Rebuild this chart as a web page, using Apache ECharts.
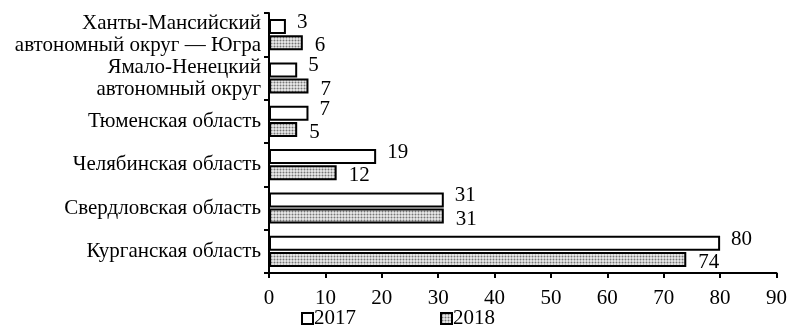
<!DOCTYPE html>
<html>
<head>
<meta charset="utf-8">
<script src="https://cdn.jsdelivr.net/npm/echarts@6/dist/echarts.min.js"></script>
<style>
  html, body { margin: 0; padding: 0; background: #fff; }
  #chart { width: 790px; height: 326px; }
</style>
</head>
<body>
<div id="chart"></div>
<script>
// Regions, listed bottom to top along the category axis
const regions = [
  'Курганская область',
  'Свердловская область',
  'Челябинская область',
  'Тюменская область',
  'Ямало-Ненецкий\nавтономный округ',
  'Ханты-Мансийский\nавтономный округ — Югра'
];
const years = ['2017', '2018'];
const values2017 = [80, 31, 19, 7, 5, 3];
const values2018 = [74, 31, 12, 5, 7, 6];
const xTicks = { min: 0, max: 90, interval: 10 };

// Dotted gray fill for the 2018 bars
function dotPattern() {
  const c = document.createElement('canvas');
  c.width = 3; c.height = 3;
  const g = c.getContext('2d');
  g.fillStyle = '#e2e2e2';
  g.fillRect(0, 0, 3, 3);
  g.fillStyle = '#bababa';
  g.fillRect(0, 1, 3, 1);
  g.fillRect(1, 0, 1, 3);
  g.fillStyle = '#767676';
  g.fillRect(1, 1, 1, 1);
  return c;
}

const FONT = '"Liberation Serif", "Times New Roman", serif';
const FS = 21;
const chart = echarts.init(document.getElementById('chart'), null, { renderer: 'canvas' });

chart.setOption({
  animation: false,
  textStyle: { fontFamily: FONT, color: '#000' },
  grid: { left: 269, right: 13, top: 13, bottom: 53, containLabel: false },
  legend: {
    data: years,
    top: 308,
    left: 301,
    icon: 'rect',
    itemWidth: 11,
    itemHeight: 11,
    itemGap: 84,
    padding: 0,
    textStyle: { fontFamily: FONT, fontSize: FS, color: '#000', padding: [0, 0, 0, -4] },
    itemStyle: { borderColor: '#000', borderWidth: 2 }
  },
  xAxis: {
    type: 'value',
    min: xTicks.min,
    max: xTicks.max,
    interval: xTicks.interval,
    splitLine: { show: false },
    axisLine: { show: true, lineStyle: { color: '#000', width: 2 } },
    axisTick: { show: true, length: 5, lineStyle: { color: '#000', width: 2 } },
    axisLabel: { fontFamily: FONT, fontSize: FS, color: '#000', margin: 15 }
  },
  yAxis: {
    type: 'category',
    data: regions,
    axisLine: { show: true, lineStyle: { color: '#000', width: 2 } },
    axisTick: { show: true, length: 5, alignWithLabel: false, lineStyle: { color: '#000', width: 2 } },
    axisLabel: { interval: 0, fontFamily: FONT, fontSize: FS, color: '#000', margin: 8, lineHeight: 22, align: 'right' }
  },
  series: [
    {
      name: years[0],
      type: 'bar',
      data: values2017,
      barCategoryGap: '28%',
      barGap: '8%',
      itemStyle: { color: '#fff', borderColor: '#000', borderWidth: 2 },
      label: {
        show: true, position: 'right', distance: 11, offset: [0, -4],
        fontFamily: FONT, fontSize: FS, color: '#000'
      }
    },
    {
      name: years[1],
      type: 'bar',
      data: values2018,
      barCategoryGap: '28%',
      barGap: '8%',
      itemStyle: { color: { image: dotPattern(), repeat: 'repeat' }, borderColor: '#000', borderWidth: 2 },
      label: {
        show: true, position: 'right', distance: 12, offset: [0, 3],
        fontFamily: FONT, fontSize: FS, color: '#000'
      }
    }
  ]
});
</script>
</body>
</html>
